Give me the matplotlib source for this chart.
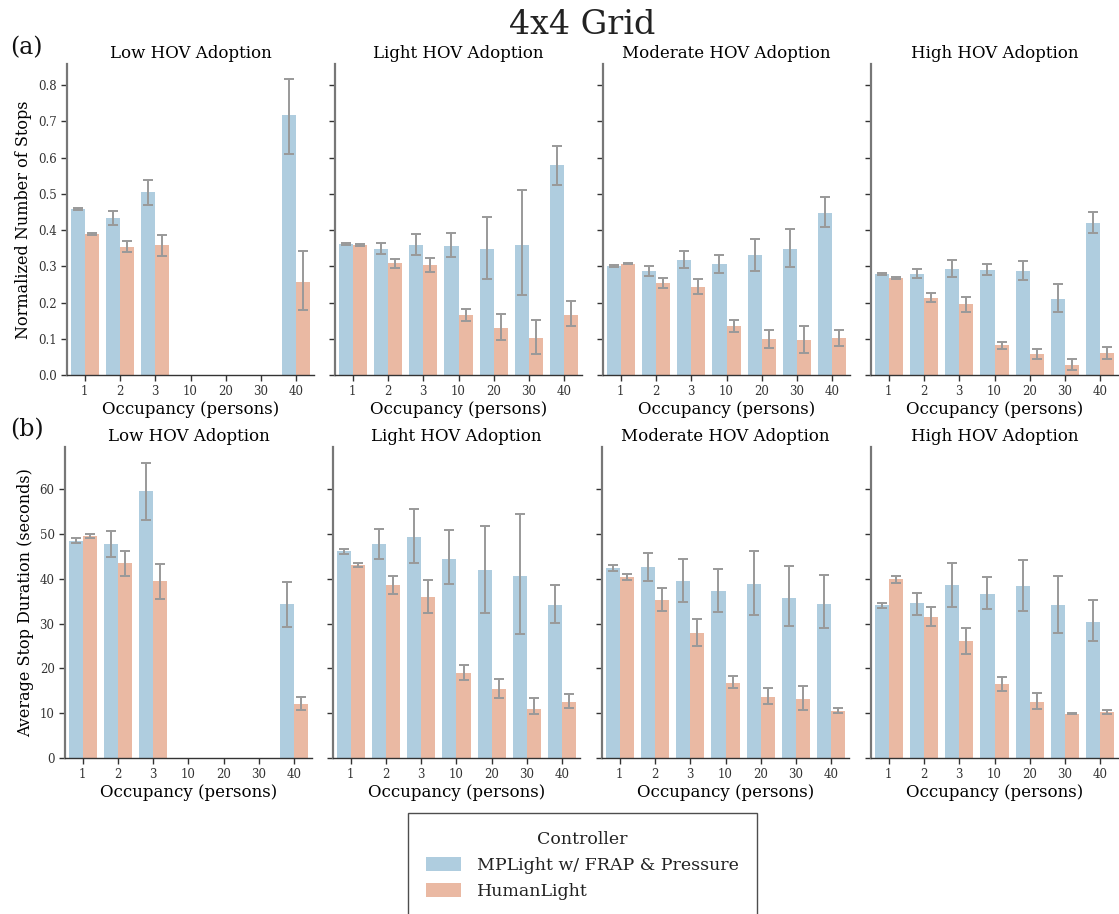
import numpy as np
import matplotlib
matplotlib.use("Agg")
import matplotlib.pyplot as plt
from matplotlib.patches import Patch

plt.rcParams['font.family'] = ['DejaVu Serif']

occupancy = ["1", "2", "3", "10", "20", "30", "40"]
scenarios = ["Low HOV Adoption", "Light HOV Adoption", "Moderate HOV Adoption", "High HOV Adoption"]
controllers = ["MPLight w/ FRAP & Pressure", "HumanLight"]
nan = np.nan

# ---- (a) Normalized number of stops ----
stops_mp = [
    [0.458, 0.434, 0.506, nan, nan, nan, 0.716],
    [0.362, 0.348, 0.359, 0.357, 0.348, 0.359, 0.578],
    [0.301, 0.288, 0.318, 0.307, 0.332, 0.348, 0.448],
    [0.279, 0.279, 0.293, 0.290, 0.288, 0.210, 0.418],
]
stops_mp_lo = [
    [0.455, 0.413, 0.470, nan, nan, nan, 0.610],
    [0.359, 0.333, 0.330, 0.326, 0.265, 0.220, 0.524],
    [0.298, 0.273, 0.294, 0.282, 0.286, 0.298, 0.408],
    [0.276, 0.268, 0.271, 0.276, 0.263, 0.173, 0.391],
]
stops_mp_hi = [
    [0.461, 0.452, 0.539, nan, nan, nan, 0.817],
    [0.365, 0.365, 0.388, 0.392, 0.435, 0.510, 0.631],
    [0.304, 0.301, 0.343, 0.332, 0.375, 0.402, 0.490],
    [0.282, 0.292, 0.317, 0.305, 0.314, 0.252, 0.449],
]
stops_hl = [
    [0.390, 0.354, 0.359, nan, nan, nan, 0.257],
    [0.359, 0.310, 0.304, 0.166, 0.130, 0.102, 0.166],
    [0.307, 0.254, 0.243, 0.135, 0.0995, 0.097, 0.102],
    [0.268, 0.213, 0.196, 0.083, 0.058, 0.028, 0.061],
]
stops_hl_lo = [
    [0.387, 0.338, 0.329, nan, nan, nan, 0.179],
    [0.357, 0.296, 0.284, 0.150, 0.096, 0.059, 0.134],
    [0.305, 0.241, 0.223, 0.118, 0.074, 0.061, 0.079],
    [0.265, 0.201, 0.174, 0.072, 0.044, 0.014, 0.044],
]
stops_hl_hi = [
    [0.393, 0.369, 0.387, nan, nan, nan, 0.343],
    [0.362, 0.321, 0.324, 0.183, 0.168, 0.153, 0.203],
    [0.310, 0.268, 0.265, 0.152, 0.123, 0.134, 0.125],
    [0.271, 0.226, 0.216, 0.092, 0.073, 0.043, 0.077],
]

# ---- (b) Average stop duration ----
dur_mp = [
    [48.5, 47.7, 59.5, nan, nan, nan, 34.3],
    [46.1, 47.7, 49.3, 44.4, 41.9, 40.6, 34.1],
    [42.4, 42.6, 39.5, 37.2, 38.8, 35.7, 34.3],
    [34.1, 34.6, 38.6, 36.6, 38.4, 34.1, 30.3],
]
dur_mp_lo = [
    [48.0, 44.9, 53.1, nan, nan, nan, 29.2],
    [45.5, 44.4, 43.6, 38.8, 32.3, 27.7, 30.1],
    [41.8, 39.5, 34.8, 32.5, 31.8, 29.4, 29.0],
    [33.5, 32.0, 33.7, 33.2, 32.9, 27.8, 26.0],
]
dur_mp_hi = [
    [49.1, 50.7, 65.9, nan, nan, nan, 39.2],
    [46.7, 51.2, 55.6, 50.9, 51.7, 54.5, 38.6],
    [43.1, 45.7, 44.5, 42.2, 46.2, 42.9, 40.9],
    [34.6, 36.9, 43.6, 40.3, 44.1, 40.7, 35.2],
]
dur_hl = [
    [49.5, 43.5, 39.5, nan, nan, nan, 12.1],
    [43.0, 38.6, 35.9, 19.0, 15.4, 11.0, 12.5],
    [40.4, 35.2, 27.9, 16.8, 13.6, 13.2, 10.5],
    [39.9, 31.5, 26.1, 16.5, 12.5, 9.9, 10.3],
]
dur_hl_lo = [
    [49.0, 40.7, 35.5, nan, nan, nan, 10.7],
    [42.6, 36.6, 32.4, 17.4, 13.4, 9.9, 11.2],
    [39.8, 32.9, 25.1, 15.6, 12.0, 10.7, 10.0],
    [39.1, 29.4, 23.2, 14.9, 10.9, 9.85, 9.9],
]
dur_hl_hi = [
    [50.0, 46.2, 43.3, nan, nan, nan, 13.6],
    [43.5, 40.7, 39.8, 20.8, 17.7, 13.3, 14.2],
    [41.0, 37.9, 31.0, 18.2, 15.7, 16.0, 11.2],
    [40.7, 33.8, 29.1, 18.0, 14.6, 9.95, 10.8],
]

colors = ["#afcddf", "#eab9a3"]
err_color = "#999999"

W, H = 1119, 914
fig = plt.figure(figsize=(W / 100, H / 100), dpi=100)

top_lefts = [67, 335, 603, 871]
bot_lefts = [65, 333, 602, 871]
pw = 247

def make_axes(lefts, top_px, bottom_px):
    axs = []
    for L in lefts:
        ax = fig.add_axes([L / W, 1 - bottom_px / H, pw / W, (bottom_px - top_px) / H])
        axs.append(ax)
    return axs

top_axes = make_axes(top_lefts, 64, 375)
bot_axes = make_axes(bot_lefts, 447, 758)

def draw_panel(ax, mp, mp_lo, mp_hi, hl, hl_lo, hl_hi, title, ylim, yticks, show_ylab, ylab, yfmt):
    x = np.arange(len(occupancy))
    w = 0.4
    series = [(mp, mp_lo, mp_hi, -w / 2, colors[0]), (hl, hl_lo, hl_hi, w / 2, colors[1])]
    for vals, lo, hi, off, c in series:
        vals = np.array(vals, float)
        lo = np.array(lo, float)
        hi = np.array(hi, float)
        ax.bar(x + off, np.nan_to_num(vals), width=w, color=c, linewidth=0)
        m = ~np.isnan(vals)
        ax.errorbar((x + off)[m], vals[m], yerr=[vals[m] - lo[m], hi[m] - vals[m]],
                    fmt='none', ecolor=err_color, elinewidth=1.4, capsize=3.5, capthick=1.4)
    ax.set_xlim(-0.5, len(occupancy) - 0.5)
    ax.set_ylim(*ylim)
    ax.set_xticks(x)
    ax.set_xticklabels(occupancy, fontsize=8.5)
    ax.set_yticks(yticks)
    if show_ylab:
        ax.set_yticklabels([yfmt.format(v) for v in yticks], fontsize=8.5)
        ax.set_ylabel(ylab, fontsize=11.5)
    else:
        ax.set_yticklabels([])
    ax.set_xlabel("Occupancy (persons)", fontsize=12, labelpad=2)
    ax.set_title(title, fontsize=12, pad=4)
    for s in ["top", "right"]:
        ax.spines[s].set_visible(False)
    ax.spines["left"].set_color("#777777")
    ax.spines["left"].set_linewidth(1.6)
    ax.spines["bottom"].set_color("#333333")
    ax.spines["bottom"].set_linewidth(1.0)
    ax.tick_params(axis='both', length=4, width=1, color="#333333", labelcolor="#333333")

for i, ax in enumerate(top_axes):
    draw_panel(ax, stops_mp[i], stops_mp_lo[i], stops_mp_hi[i], stops_hl[i], stops_hl_lo[i], stops_hl_hi[i],
               scenarios[i], (0, 0.858), np.arange(0, 0.81, 0.1), i == 0, "Normalized Number of Stops", "{:.1f}")

for i, ax in enumerate(bot_axes):
    draw_panel(ax, dur_mp[i], dur_mp_lo[i], dur_mp_hi[i], dur_hl[i], dur_hl_lo[i], dur_hl_hi[i],
               scenarios[i], (0, 69.4), np.arange(0, 61, 10), i == 0, "Average Stop Duration (seconds)", "{:.0f}")

fig.text(0.52, 1 - 25 / H, "4x4 Grid", ha="center", va="center", fontsize=24, color="#222222")
fig.text(10 / W, 1 - 48 / H, "(a)", ha="left", va="center", fontsize=17, color="#111111")
fig.text(10 / W, 1 - 430 / H, "(b)", ha="left", va="center", fontsize=17, color="#111111")

handles = [Patch(facecolor=colors[0], edgecolor="none"), Patch(facecolor=colors[1], edgecolor="none")]
leg = fig.legend(handles, controllers, title="Controller", loc="upper center",
                 bbox_to_anchor=(582.5 / W, 1 - 813 / H), borderaxespad=0, fontsize=12.5, title_fontsize=12.5,
                 frameon=True, fancybox=False, edgecolor="#222222", borderpad=1.05,
                 handlelength=2.0, handleheight=0.9, labelspacing=0.5, handletextpad=0.9)
leg.get_frame().set_linewidth(1.0)
for t in leg.get_texts():
    t.set_color("#222222")
leg.get_title().set_color("#222222")

fig.savefig("out.png", dpi=100)
